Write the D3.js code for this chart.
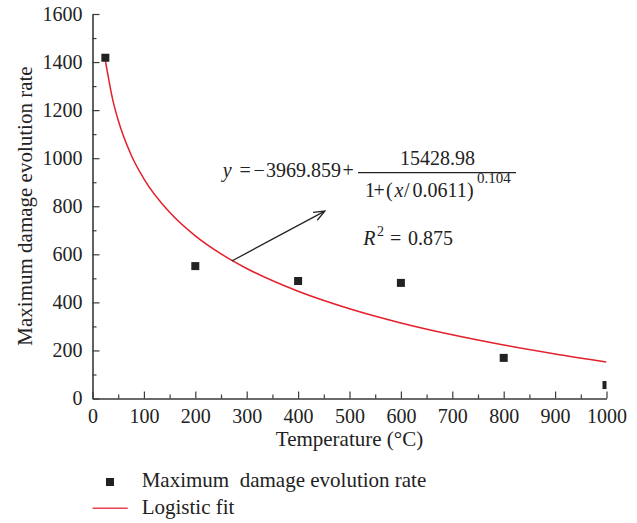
<!DOCTYPE html>
<head>
    <meta charset="utf-8">
    <script src="https://d3js.org/d3.v7.min.js"></script>
    <style>
        body { margin: 0; background: #fff; }
        text { font-family: "Liberation Serif", "DejaVu Serif", serif; fill: #222; }
    </style>
</head>

<body>
    <div id="chart"></div>
</body>

<script>

    const width = 637,
        height = 523;

    const margin = {top: 14, right: 30.5, bottom: 124.5, left: 92.5};

    // measured points
    const temps = [25, 200, 400, 600, 800, 1000];
    const rates = [1418, 551, 489, 481, 169, 56];

    // logistic fit curve
    const fitTemps = [25, 40, 50, 75, 100, 150, 200, 250, 300, 400, 500, 600, 700, 800, 900, 1000];
    const fitRates = [1407.5, 1237.7, 1157.9, 1014.6, 914.1, 774.6, 676.8, 601.8, 541.0, 446.1, 373.4, 314.4, 265.0, 222.5, 185.2, 152.0];

    const xTicks = [0, 100, 200, 300, 400, 500, 600, 700, 800, 900, 1000];
    const yTicks = [0, 200, 400, 600, 800, 1000, 1200, 1400, 1600];

    // arrow annotation in data units (start on the curve, end near the formula)
    const arrowFrom = [271, 572],
        arrowTo = [452, 780];

    const x = d3.scaleLinear()
        .domain([0, 1000])
        .range([margin.left, width - margin.right]);

    const y = d3.scaleLinear()
        .domain([0, 1600])
        .range([height - margin.bottom, margin.top]);

    const svg = d3.select("#chart")
        .append("svg")
        .attr("width", width)
        .attr("height", height);

    svg.append("clipPath").attr("id", "plotclip")
        .append("rect")
        .attr("x", margin.left)
        .attr("y", margin.top)
        .attr("width", width - margin.left - margin.right)
        .attr("height", height - margin.top - margin.bottom);

    const axisColor = "#3a3a3a";

    // x axis: major ticks point inward, minor ticks every 50
    svg.append("g")
        .attr("transform", `translate(0,${y(0)})`)
        .call(d3.axisBottom(x).tickValues(xTicks).tickFormat(d3.format("d"))
            .tickSizeInner(-7).tickSizeOuter(0).tickPadding(10));
    svg.append("g")
        .attr("transform", `translate(0,${y(0)})`)
        .call(d3.axisBottom(x).tickValues(d3.range(50, 1000, 100)).tickFormat("")
            .tickSizeInner(-4).tickSizeOuter(0))
        .call(g => g.select(".domain").remove());

    svg.append("g")
        .attr("transform", `translate(${x(0)},0)`)
        .call(d3.axisLeft(y).tickValues(yTicks).tickFormat(d3.format("d"))
            .tickSizeInner(-7).tickSizeOuter(0).tickPadding(10));
    svg.append("g")
        .attr("transform", `translate(${x(0)},0)`)
        .call(d3.axisLeft(y).tickValues(d3.range(100, 1600, 200)).tickFormat("")
            .tickSizeInner(-4).tickSizeOuter(0))
        .call(g => g.select(".domain").remove());

    svg.selectAll(".domain").attr("stroke", axisColor).attr("stroke-width", 1.6);
    svg.selectAll(".tick line").attr("stroke", axisColor).attr("stroke-width", 1.2);
    svg.selectAll("g[font-family]").attr("font-family", null).attr("font-size", null);
    svg.selectAll(".tick text")
        .style("font-family", '"Liberation Serif", serif')
        .style("font-size", "20px")
        .attr("fill", "#222");

    // axis titles
    svg.append("text")
        .attr("x", (x(0) + x(1000)) / 2)
        .attr("y", 446)
        .attr("text-anchor", "middle")
        .style("font-size", "21px")
        .text("Temperature (°C)");

    svg.append("text")
        .attr("transform", "translate(32,206) rotate(-90)")
        .attr("text-anchor", "middle")
        .style("font-size", "21px")
        .text("Maximum damage evolution rate");

    const plot = svg.append("g").attr("clip-path", "url(#plotclip)");

    // fit line
    const line = d3.line()
        .x(d => x(d[0]))
        .y(d => y(d[1]))
        .curve(d3.curveMonotoneX);

    plot.append("path")
        .datum(d3.zip(fitTemps, fitRates))
        .attr("d", line)
        .attr("fill", "none")
        .attr("stroke", "#e3202b")
        .attr("stroke-width", 1.5);

    // points
    plot.selectAll("rect.pt")
        .data(d3.zip(temps, rates))
        .join("rect")
        .attr("class", "pt")
        .attr("x", d => x(d[0]) - 4)
        .attr("y", d => y(d[1]) - 4)
        .attr("width", 8)
        .attr("height", 8)
        .attr("fill", "#222");

    // arrow
    svg.append("defs").append("marker")
        .attr("id", "arrowhead")
        .attr("viewBox", "0 0 12 10")
        .attr("refX", 11).attr("refY", 5)
        .attr("markerWidth", 12).attr("markerHeight", 10)
        .attr("markerUnits", "userSpaceOnUse")
        .attr("orient", "auto")
        .append("path")
        .attr("d", "M0,0.5 L11,5 L0,9.5")
        .attr("fill", "none")
        .attr("stroke", "#222")
        .attr("stroke-width", 1.3);

    svg.append("line")
        .attr("x1", x(arrowFrom[0])).attr("y1", y(arrowFrom[1]))
        .attr("x2", x(arrowTo[0])).attr("y2", y(arrowTo[1]))
        .attr("stroke", "#222")
        .attr("stroke-width", 1.3)
        .attr("marker-end", "url(#arrowhead)");

    // formula
    const f = svg.append("g").style("font-size", "20px");

    const l1 = f.append("text").attr("y", 177.3);
    l1.append("tspan").attr("x", 222.7).style("font-style", "italic").text("y");
    l1.append("tspan").attr("x", 239.5).text("=");
    l1.append("tspan").attr("x", 253.5).text("−");
    l1.append("tspan").attr("x", 266).text("3969.859");
    l1.append("tspan").attr("x", 342.5).text("+");

    f.append("text")
        .attr("x", 437.5).attr("y", 165)
        .attr("text-anchor", "middle")
        .text("15428.98");

    f.append("line")
        .attr("x1", 358).attr("x2", 516)
        .attr("y1", 172.7).attr("y2", 172.7)
        .attr("stroke", "#222").attr("stroke-width", 1.2);

    const den = f.append("text").attr("y", 196.7);
    den.append("tspan").attr("x", 365).text("1");
    den.append("tspan").attr("x", 373.5).text("+");
    den.append("tspan").attr("x", 386).text("(");
    den.append("tspan").attr("x", 394.5).style("font-style", "italic").text("x");
    den.append("tspan").attr("x", 404).text("/");
    den.append("tspan").attr("x", 412.5).text("0.0611");
    den.append("tspan").attr("x", 467).text(")");
    den.append("tspan").attr("x", 477).attr("dy", -14).style("font-size", "15px").text("0.104");

    const r2 = f.append("text").attr("y", 245);
    r2.append("tspan").attr("x", 363.3).style("font-style", "italic").text("R");
    r2.append("tspan").attr("x", 377).attr("dy", -9).style("font-size", "14px").text("2");
    r2.append("tspan").attr("x", 390).attr("dy", 9).text("=");
    r2.append("tspan").attr("x", 408).text("0.875");

    // legend
    const lg = svg.append("g");
    lg.append("rect")
        .attr("x", 106).attr("y", 478)
        .attr("width", 8).attr("height", 8)
        .attr("fill", "#222");
    lg.append("text")
        .attr("x", 141.7).attr("y", 486.7)
        .style("font-size", "21px")
        .style("white-space", "pre")
        .text("Maximum  damage evolution rate");
    lg.append("line")
        .attr("x1", 92.7).attr("x2", 127.7)
        .attr("y1", 508.3).attr("y2", 508.3)
        .attr("stroke", "#e8414c")
        .attr("stroke-width", 1.5);
    lg.append("text")
        .attr("x", 141.7).attr("y", 514)
        .style("font-size", "21px")
        .text("Logistic fit");

</script>
